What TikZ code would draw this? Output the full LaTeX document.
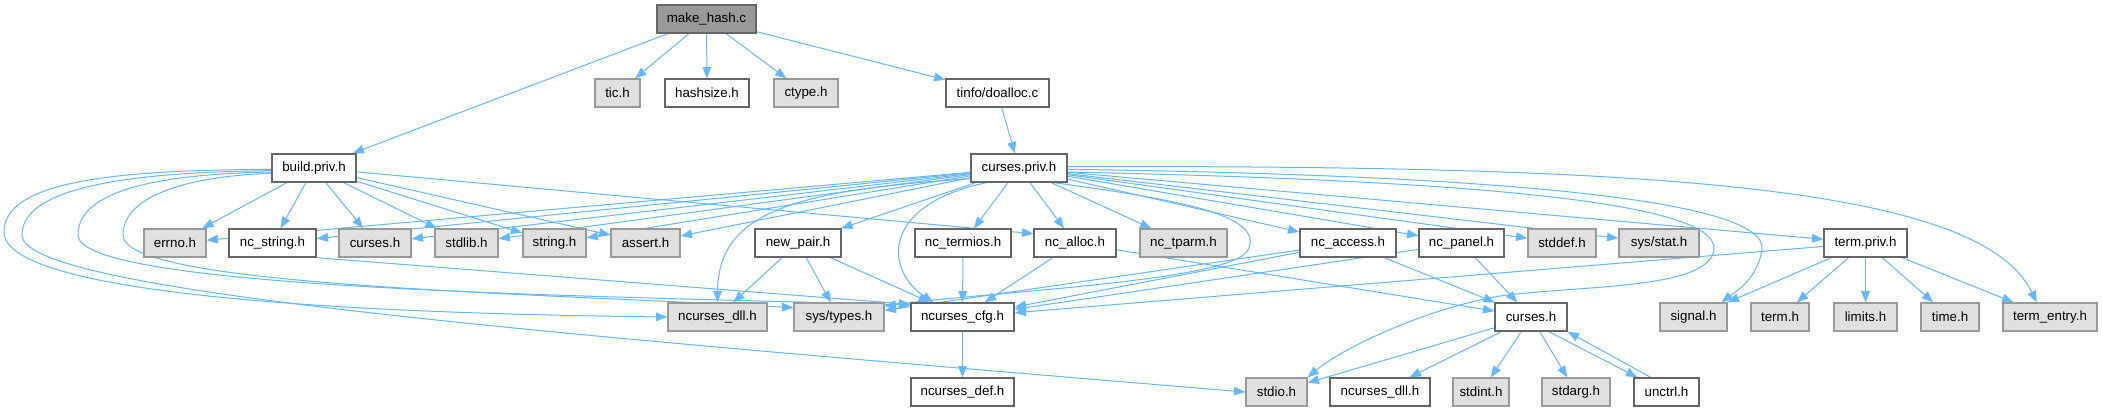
\documentclass[tikz,border=0pt]{standalone}
\usepackage{fontspec}
\setmainfont{Liberation Sans}
\usetikzlibrary{arrows.meta}
\pgfdeclarelayer{bg}
\pgfsetlayers{bg,main}
\definecolor{edgec}{HTML}{63B8FF}
\definecolor{grayfill}{HTML}{E0E0E0}
\definecolor{grayline}{HTML}{999999}
\definecolor{darkline}{HTML}{666666}
\definecolor{rootfill}{HTML}{999999}
\tikzset{
  box/.style={draw, line width=1pt, minimum height=21pt, inner sep=0pt,
    font=\fontsize{10pt}{12pt}\selectfont, text=black},
  wbox/.style={box, draw=darkline, fill=white, minimum width=#1*0.75pt},
  gbox/.style={box, draw=grayline, fill=grayfill, minimum width=#1*0.75pt},
  rbox/.style={box, draw=darkline, fill=rootfill, minimum width=#1*0.75pt},
  link/.style={draw=edgec, line width=0.75pt, -{Triangle[length=8.5pt,width=6.5pt]}},
}
\begin{document}
\begin{tikzpicture}[x=0.75pt,y=-0.75pt]
\useasboundingbox (0,0) rectangle (2102,411);
% row 0
\node[rbox=99] (root) at (706.5,19) {make\_hash.c};
% row 1
\node[gbox=45] (tic) at (617.5,93) {tic.h};
\node[wbox=84] (hashsize) at (707,93) {hashsize.h};
\node[gbox=64] (ctype) at (806,93) {ctype.h};
\node[wbox=103] (doalloc) at (997.5,93) {tinfo/doalloc.c};
% row 2
\node[wbox=84] (build) at (314,168) {build.priv.h};
\node[wbox=96] (cpriv) at (1019,168) {curses.priv.h};
% row 3
\node[gbox=62] (errno) at (175,243) {errno.h};
\node[wbox=87] (ncstring) at (272.5,243) {nc\_string.h};
\node[gbox=72] (curses3) at (375,243) {curses.h};
\node[gbox=63] (stdlib) at (466.5,243) {stdlib.h};
\node[gbox=63] (string) at (554.5,243) {string.h};
\node[gbox=69] (assert) at (645.5,243) {assert.h};
\node[wbox=86] (newpair) at (798,243) {new\_pair.h};
\node[wbox=96] (nctermios) at (963,243) {nc\_termios.h};
\node[wbox=82] (ncalloc) at (1075,243) {nc\_alloc.h};
\node[gbox=87] (nctparm) at (1183.5,243) {nc\_tparm.h};
\node[wbox=96] (ncaccess) at (1348,243) {nc\_access.h};
\node[wbox=85] (ncpanel) at (1461.5,243) {nc\_panel.h};
\node[gbox=68] (stddef) at (1562,243) {stddef.h};
\node[gbox=80] (sysstat) at (1659,243) {sys/stat.h};
\node[wbox=83] (termpriv) at (1865.5,243) {term.priv.h};
% row 4
\node[gbox=99] (dllA) at (717.5,317) {ncurses\_dll.h};
\node[gbox=90] (systypes) at (839,317) {sys/types.h};
\node[wbox=103] (cfg) at (962.5,317) {ncurses\_cfg.h};
\node[wbox=72] (curses4) at (1531,317) {curses.h};
\node[gbox=67] (signal) at (1693.5,317) {signal.h};
\node[gbox=58] (term) at (1780,317) {term.h};
\node[gbox=63] (limits) at (1865.5,317) {limits.h};
\node[gbox=58] (time) at (1950,317) {time.h};
\node[gbox=94] (termentry) at (2050,317) {term\_entry.h};
% row 5
\node[wbox=103] (def) at (962.5,392) {ncurses\_def.h};
\node[gbox=61] (stdio) at (1276.5,392) {stdio.h};
\node[wbox=100] (dllB) at (1380,392) {ncurses\_dll.h};
\node[gbox=56] (stdint) at (1481,392) {stdint.h};
\node[gbox=68] (stdarg) at (1576,392) {stdarg.h};
\node[wbox=65] (unctrl) at (1666.5,392) {unctrl.h};

\begin{pgfonlayer}{bg}
\fill[white] (0,0) rectangle (2102,411);
% root
\foreach \t in {build,tic,hashsize,ctype,doalloc} \draw[link] (root) -- (\t);
\draw[link] (doalloc) -- (cpriv);
% build.priv.h
\foreach \t in {errno,ncstring,curses3,stdlib,string,assert} \draw[link] (build) -- (\t);
\draw[link] (build) -- ([yshift=7pt]ncalloc.west);
\draw[link] ([yshift=-1pt]build.west) .. controls (120,170) and (4,180) .. (4,232)
  .. controls (4,285) and (250,312) .. (dllA.west);
\draw[link] ([yshift=-2pt]build.west) .. controls (140,172) and (22,185) .. (22,235)
  .. controls (22,290) and (500,330) .. (stdio.west);
\draw[link] ([yshift=-3pt]build.west) .. controls (160,174) and (78,190) .. (78,235)
  .. controls (78,290) and (600,296) .. ([yshift=-2pt]cfg.north west);
\draw[link] ([yshift=-4pt]build.west) .. controls (190,176) and (123,195) .. (123,235)
  .. controls (123,285) and (500,292) .. ([yshift=7pt]systypes.west);
% nc_string.h
\draw[link] (ncstring.south east) -- ([yshift=-1.5pt]cfg.north west);
% curses.priv.h
\foreach \t in {errno,ncstring,curses3,stdlib,string,assert,newpair,nctermios,ncalloc,nctparm,ncaccess,ncpanel,stddef,sysstat,termpriv}
  \draw[link] (cpriv) -- (\t);
\draw[link] ([yshift=3pt]cpriv.south west) .. controls (800,190) and (718,210) .. (dllA.north);
\draw[link] ([xshift=12pt]cpriv.south west) .. controls (880,205) and (885,270) .. ([xshift=-22pt]cfg.north);
\draw[link] ([xshift=-10pt]cpriv.south east) .. controls (1180,200) and (1265,215) .. (1248,250)
  .. controls (1232,282) and (980,292) .. ([yshift=8pt]systypes.east);
\draw[link] ([yshift=-3pt]cpriv.east) .. controls (1450,180) and (1720,200) .. (1714,250)
  .. controls (1708,290) and (1580,285) .. (1500,296)
  .. controls (1420,310) and (1340,350) .. (stdio.north east);
\draw[link] ([yshift=-1pt]cpriv.east) .. controls (1500,175) and (1770,200) .. (1762,250)
  .. controls (1757,280) and (1735,292) .. ([xshift=21pt]signal.north);
\draw[link] ([yshift=1pt]cpriv.east) .. controls (1650,165) and (1980,185) .. ([xshift=-10pt]termentry.north);
% new_pair.h
\foreach \t in {dllA,systypes,cfg} \draw[link] (newpair) -- (\t);
% nc_termios.h, nc_alloc.h
\draw[link] (nctermios) -- (cfg);
\draw[link] (ncalloc) -- (cfg);
\draw[link] (ncalloc) -- (curses4);
% nc_access.h, nc_panel.h
\draw[link] (ncaccess) -- (cfg);
\draw[link] (ncaccess) -- (systypes);
\draw[link] (ncaccess) -- (curses4);
\draw[link] (ncpanel) -- (cfg);
\draw[link] (ncpanel) -- (curses4);
% term.priv.h
\foreach \t in {cfg,signal,term,limits,time,termentry} \draw[link] (termpriv) -- (\t);
% ncurses_cfg.h
\draw[link] (cfg) -- (def);
% curses.h
\foreach \t in {stdio,dllB,stdint,stdarg} \draw[link] (curses4) -- (\t);
\draw[link] ([xshift=-14pt]curses4.south east) -- ([xshift=3pt]unctrl.north west);
\draw[link] ([xshift=13pt]unctrl.north west) -- (curses4.south east);
\end{pgfonlayer}
\end{tikzpicture}
\end{document}
